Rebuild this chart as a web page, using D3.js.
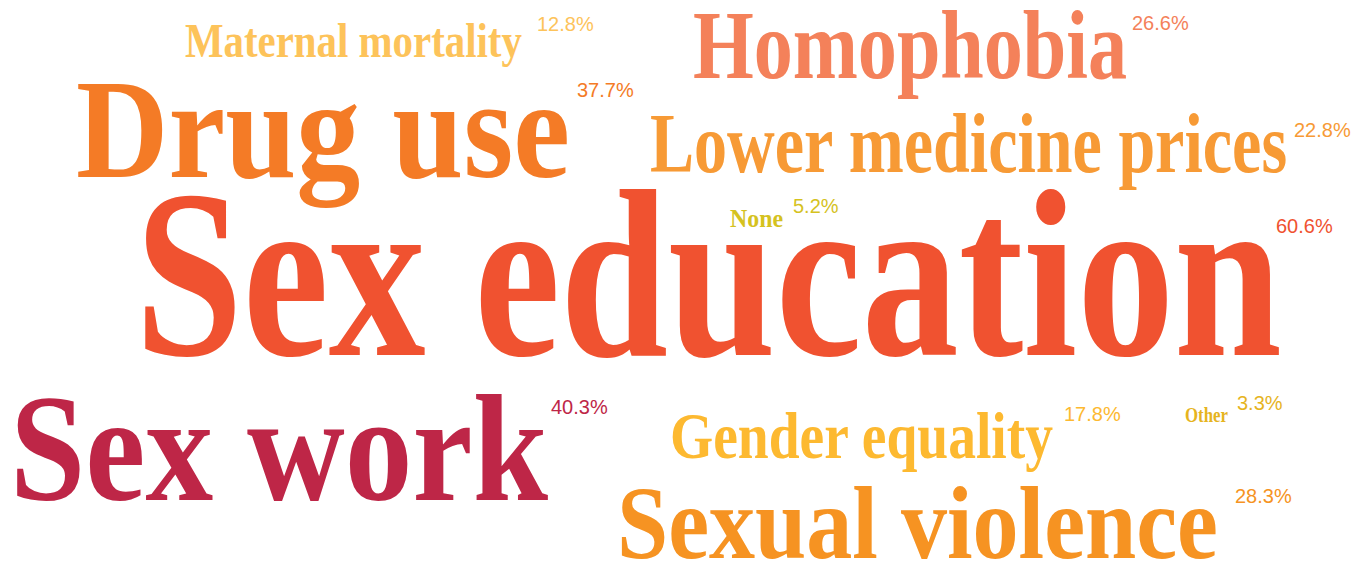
<!DOCTYPE html>
<html>
<head>
<meta charset="utf-8">
<script src="https://cdn.jsdelivr.net/npm/d3@7"></script>
<style>
  body { margin: 0; background: #fff; }
  svg { display: block; }
</style>
</head>
<body>
<div id="chart"></div>
<script>
//Data
var topics = ["Sex education", "Sex work", "Drug use", "Sexual violence", "Homophobia",
  "Lower medicine prices", "Gender equality", "Maternal mortality", "None", "Other"];
var shares = [60.6, 40.3, 37.7, 28.3, 26.6, 22.8, 17.8, 12.8, 5.2, 3.3];
var colours = ["#F05230", "#BE2647", "#F47B26", "#F69322", "#F4815A",
  "#F79A35", "#FDB930", "#FDC35A", "#D5C21E", "#E6B41E"];

//Cloud layout: box of each word (left, right, baseline), baseline and gap of its share label
var wordX = [135, 10, 76, 617, 693, 650, 670, 185, 730, 1185];
var wordRight = [1282, 548, 570, 1218, 1127, 1287, 1053, 522, 783, 1228];
var wordY = [355, 500, 177, 558, 78, 172, 458, 57, 227, 422];
var labelY = [233, 414, 97, 503, 30, 137, 421, 31, 213, 410];
var labelGap = [-6, 3, 7, 17, 5, 7, 11, 15, 10, 9];

var width = 1371, height = 566;

var svg = d3.select("#chart").append("svg")
  .attr("width", width)
  .attr("height", height);

//Font size follows the share
var size = d3.scalePow()
  .exponent(1.2)
  .domain([0, d3.max(shares)])
  .range([14.4, 239]);

var data = topics.map(function(t, i) {
  return { topic: t, share: shares[i], colour: colours[i], x: wordX[i], x1: wordRight[i],
    y: wordY[i], ly: labelY[i], gap: labelGap[i] };
});

var word = svg.selectAll("g.word")
  .data(data)
  .enter()
  .append("g")
  .attr("class", "word");

//Words, squeezed sideways into their box (the original face is a condensed serif)
word.append("text")
  .attr("class", "topic")
  .style("font-family", "'Liberation Serif', 'DejaVu Serif', serif")
  .style("font-weight", "bold")
  .style("font-size", function(d) { return size(d.share) + "px"; })
  .style("fill", function(d) { return d.colour; })
  .text(function(d) { return d.topic; })
  .attr("transform", function(d) {
    var k = (d.x1 - d.x) / this.getComputedTextLength();
    return "translate(" + d.x + "," + d.y + ") scale(" + k + ",1)";
  });

//Share labels
word.append("text")
  .attr("class", "label")
  .attr("x", function(d) { return d.x1 + d.gap; })
  .attr("y", function(d) { return d.ly; })
  .style("font-family", "'Liberation Sans', Arial, sans-serif")
  .style("font-size", "20px")
  .style("fill", function(d) { return d.colour; })
  .text(function(d) { return d.share.toFixed(1) + "%"; });
</script>
</body>
</html>
